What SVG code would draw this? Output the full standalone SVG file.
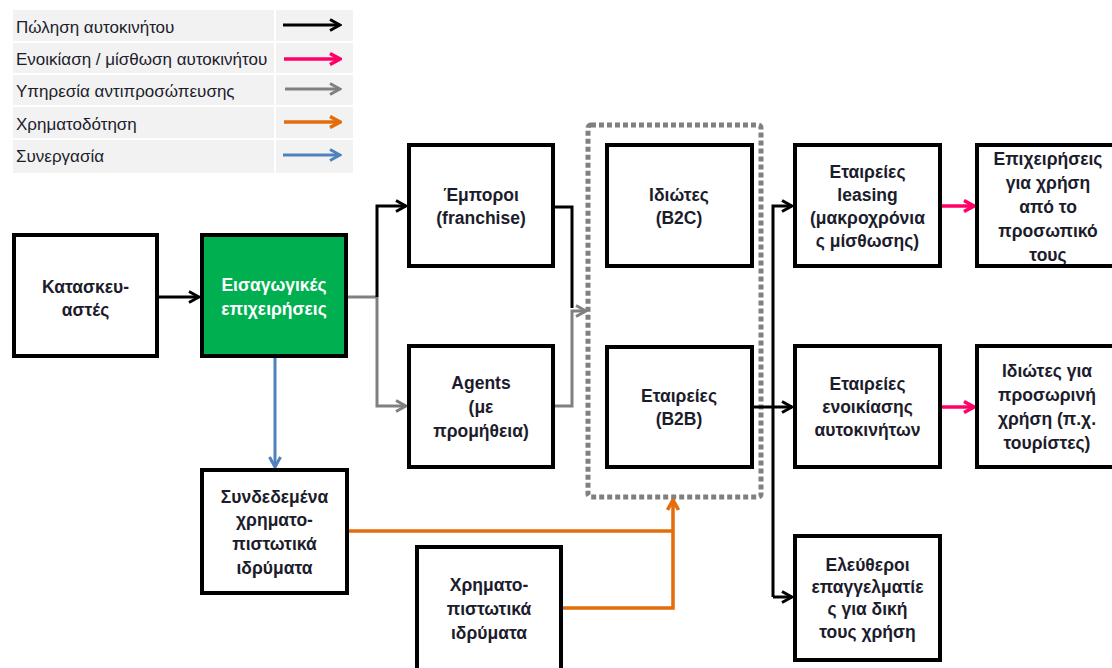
<svg xmlns="http://www.w3.org/2000/svg" width="1112" height="668" viewBox="0 0 1112 668">
<style>
.node rect{fill:#fff;stroke:#000;stroke-width:4}
.node text{font-family:"Liberation Sans",Arial,sans-serif;font-size:17.5px;font-weight:bold;fill:#1c1c2c;text-anchor:middle}
.lg{font-family:"Liberation Sans",Arial,sans-serif;font-size:17px;fill:#1c1c2c}
.c{fill:none;stroke-linejoin:miter}
.k{stroke:#000;stroke-width:3}
.g{stroke:#808080;stroke-width:3}
.p{stroke:#ff0066;stroke-width:3.5}
.o{stroke:#e46c0a;stroke-width:3.5}
.b{stroke:#4f81bd;stroke-width:3}
</style>
<defs>
<marker id="ak" viewBox="0 0 14 14" refX="12" refY="7" markerWidth="14" markerHeight="14" markerUnits="userSpaceOnUse" orient="auto"><path d="M2,1.5 L12,7 L2,12.5" fill="none" stroke="#000" stroke-width="3"/></marker>
<marker id="ag" viewBox="0 0 14 14" refX="12" refY="7" markerWidth="14" markerHeight="14" markerUnits="userSpaceOnUse" orient="auto"><path d="M2,1.5 L12,7 L2,12.5" fill="none" stroke="#808080" stroke-width="3"/></marker>
<marker id="ap" viewBox="0 0 14 14" refX="12" refY="7" markerWidth="14" markerHeight="14" markerUnits="userSpaceOnUse" orient="auto"><path d="M2,1.5 L12,7 L2,12.5" fill="none" stroke="#ff0066" stroke-width="3.5"/></marker>
<marker id="ao" viewBox="0 0 14 14" refX="12" refY="7" markerWidth="14" markerHeight="14" markerUnits="userSpaceOnUse" orient="auto"><path d="M2,1.5 L12,7 L2,12.5" fill="none" stroke="#e46c0a" stroke-width="3.5"/></marker>
<marker id="ab" viewBox="0 0 14 14" refX="12" refY="7" markerWidth="14" markerHeight="14" markerUnits="userSpaceOnUse" orient="auto"><path d="M2,1.5 L12,7 L2,12.5" fill="none" stroke="#4f81bd" stroke-width="3"/></marker>
</defs>
<rect width="1112" height="668" fill="#fff"/>

<g id="legend">
<rect x="13" y="10" width="340" height="163" fill="#f2f2f2"/>
<g stroke="#fff" stroke-width="2">
<line x1="13" y1="42" x2="353" y2="42"/>
<line x1="13" y1="74" x2="353" y2="74"/>
<line x1="13" y1="106" x2="353" y2="106"/>
<line x1="13" y1="139" x2="353" y2="139"/>
<line x1="275" y1="10" x2="275" y2="173"/>
</g>
<text class="lg" x="16" y="33">Πώληση αυτοκινήτου</text>
<text class="lg" x="16" y="65">Ενοικίαση / μίσθωση αυτοκινήτου</text>
<text class="lg" x="16" y="97">Υπηρεσία αντιπροσώπευσης</text>
<text class="lg" x="16" y="130">Χρηματοδότηση</text>
<text class="lg" x="16" y="162">Συνεργασία</text>
<path class="c k" d="M283,25 H340" marker-end="url(#ak)"/>
<path class="c p" d="M284,59 H340" marker-end="url(#ap)"/>
<path class="c g" d="M285,89 H340" marker-end="url(#ag)"/>
<path class="c o" d="M284,122 H340" marker-end="url(#ao)"/>
<path class="c b" d="M283,155 H340" marker-end="url(#ab)"/>
</g>

<g id="group-box">
<rect x="588" y="125" width="173" height="372" rx="3" fill="none" stroke="#808080" stroke-width="5" stroke-dasharray="5 3"/>
</g>

<g id="connectors">
<path class="c k" d="M159,297 H199" marker-end="url(#ak)"/>
<path class="c g" d="M348,297 H377"/>
<path class="c k" d="M377,297 V206 H406" marker-end="url(#ak)"/>
<path class="c g" d="M377,297 V406 H406" marker-end="url(#ag)"/>
<path class="c k" d="M555,207 H572 V308"/>
<path class="c g" d="M555,406 H572 V311 H586" marker-end="url(#ag)"/>
<path class="c k" d="M752,407 H792" marker-end="url(#ak)"/>
<path class="c k" d="M773,597 V206 H792" marker-end="url(#ak)"/>
<path class="c k" d="M773,597 H792" marker-end="url(#ak)"/>
<path class="c p" d="M942,206 H974" marker-end="url(#ap)"/>
<path class="c p" d="M942,407 H974" marker-end="url(#ap)"/>
<path class="c b" d="M275,358 V467" marker-end="url(#ab)"/>
<path class="c o" d="M349,531 H673"/>
<path class="c o" d="M563,608 H673 V500" marker-end="url(#ao)"/>
</g>

<g id="n-manufacturers" class="node">
<rect x="14" y="235" width="143" height="121"/>
<text x="85.5" y="293">Κατασκευ-</text>
<text x="85.5" y="316">αστές</text>
</g>
<g id="n-importers" class="node">
<rect x="202" y="235" width="144" height="121" style="fill:#00b050"/>
<text x="274" y="291" style="fill:#fff">Εισαγωγικές</text>
<text x="274" y="315" style="fill:#fff">επιχειρήσεις</text>
</g>
<g id="n-dealers" class="node">
<rect x="409" y="145" width="144" height="121"/>
<text x="481" y="201">Έμποροι</text>
<text x="481" y="224">(franchise)</text>
</g>
<g id="n-agents" class="node">
<rect x="409" y="346" width="144" height="121"/>
<text x="481" y="389">Agents</text>
<text x="481" y="413">(με</text>
<text x="481" y="437">προμήθεια)</text>
</g>
<g id="n-b2c" class="node">
<rect x="607" y="145" width="145" height="121"/>
<text x="679" y="201">Ιδιώτες</text>
<text x="679" y="224">(B2C)</text>
</g>
<g id="n-b2b" class="node">
<rect x="607" y="347" width="145" height="120"/>
<text x="679" y="402">Εταιρείες</text>
<text x="679" y="425">(B2B)</text>
</g>
<g id="n-leasing" class="node">
<rect x="795" y="145" width="145" height="121"/>
<text x="867.5" y="178">Εταιρείες</text>
<text x="867.5" y="201">leasing</text>
<text x="867.5" y="224">(μακροχρόνια</text>
<text x="867.5" y="247">ς μίσθωσης)</text>
</g>
<g id="n-staff" class="node">
<rect x="977" y="145" width="150" height="121"/>
<text x="1048" y="165">Επιχειρήσεις</text>
<text x="1048" y="189">για χρήση</text>
<text x="1048" y="213">από το</text>
<text x="1048" y="237">προσωπικό</text>
<text x="1048" y="261">τους</text>
</g>
<g id="n-rental" class="node">
<rect x="795" y="346" width="145" height="121"/>
<text x="867.5" y="390">Εταιρείες</text>
<text x="867.5" y="413">ενοικίασης</text>
<text x="867.5" y="436">αυτοκινήτων</text>
</g>
<g id="n-tourists" class="node">
<rect x="977" y="346" width="150" height="121"/>
<text x="1047" y="377">Ιδιώτες για</text>
<text x="1047" y="401">προσωρινή</text>
<text x="1047" y="425">χρήση (π.χ.</text>
<text x="1047" y="449">τουρίστες)</text>
</g>
<g id="n-freelancers" class="node">
<rect x="795" y="536" width="145" height="124"/>
<text x="867.5" y="571">Ελεύθεροι</text>
<text x="867.5" y="593">επαγγελματίε</text>
<text x="867.5" y="615">ς για δική</text>
<text x="867.5" y="638">τους χρήση</text>
</g>
<g id="n-linked-fin" class="node">
<rect x="202" y="470" width="145" height="123"/>
<text x="274.5" y="503">Συνδεδεμένα</text>
<text x="274.5" y="526">χρηματο-</text>
<text x="274.5" y="550">πιστωτικά</text>
<text x="274.5" y="574">ιδρύματα</text>
</g>
<g id="n-fin" class="node">
<rect x="417" y="547" width="144" height="130"/>
<text x="489" y="591">Χρηματο-</text>
<text x="489" y="615">πιστωτικά</text>
<text x="489" y="639">ιδρύματα</text>
</g>
</svg>
